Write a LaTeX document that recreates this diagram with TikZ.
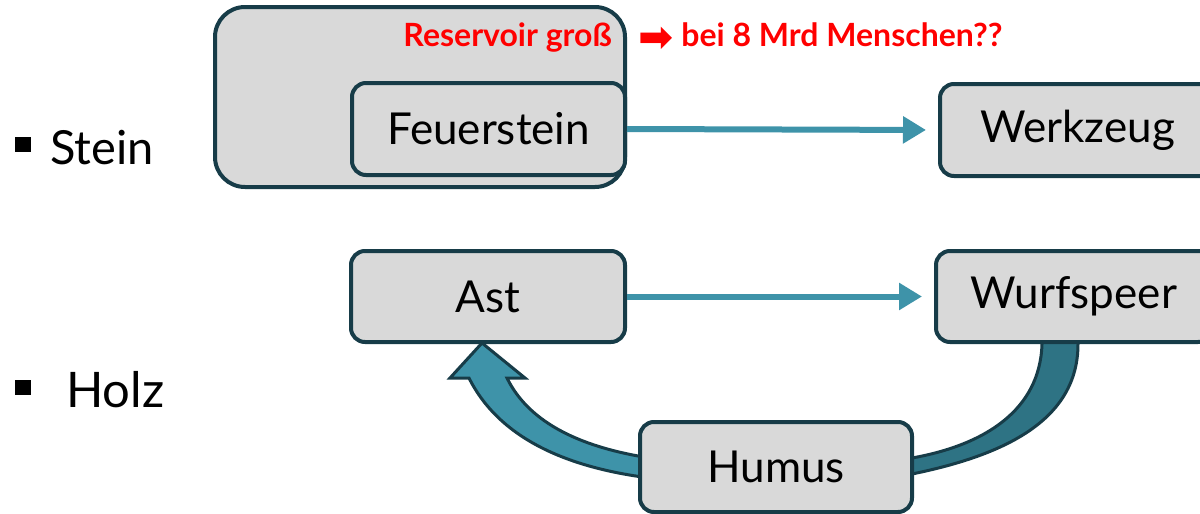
\documentclass[tikz,border=0pt]{standalone}
\usepackage{fontspec}
\setmainfont{Lato}
\newfontfamily\dejavu{DejaVu Sans}
\usetikzlibrary{arrows.meta}
\definecolor{boxfill}{HTML}{D9D9D9}
\definecolor{boxline}{HTML}{173C48}
\definecolor{tealA}{HTML}{3E93A9}
\definecolor{tealB}{HTML}{2E7384}
\definecolor{redtxt}{HTML}{FF0000}
\tikzset{
  box/.style={draw=boxline, line width=4pt, fill=boxfill, rounded corners=14pt, inner sep=0pt, font=\fontsize{44}{50}\selectfont},
  flowarrow/.style={draw=tealA, line width=6pt, -{Triangle[length=23pt,width=26pt]}, shorten >=12pt},
  bandline/.style={draw=boxline, line width=3pt, line join=round},
  bullettext/.style={anchor=base west, inner sep=0pt, font=\fontsize{47}{52}\selectfont},
  redlabel/.style={text=redtxt, inner sep=0pt, font=\bfseries\fontsize{32}{36}\selectfont}
}
\begin{document}
\begin{tikzpicture}[x=1pt,y=-1pt]
\useasboundingbox (0,0) rectangle (1200,514);
\clip (0,0) rectangle (1200,514);
% reservoir
\node[box, rounded corners=30pt, minimum width=410pt, minimum height=180pt] (res) at (420,97) {};
\node[redlabel, anchor=base east] (red1) at (612,46) {Reservoir groß};
\node[redlabel, anchor=base west] (red2) at (638,46) {\raisebox{-5pt}{\dejavu\fontsize{42}{46}\selectfont ➡}\hspace{8pt}bei 8 Mrd Menschen??};
% top row
\node[box, minimum width=273pt, minimum height=92pt] (feuer) at (488.5,129) {Feuerstein};
\node[box, minimum width=275pt, minimum height=92pt] (werk) at (1077.5,130) {Werkzeug};
\draw[flowarrow] (feuer.east) -- (werk.west);
% curved shapes
\fill[tealB] (1042,342) .. controls (1040,410) and (985,445) .. (912,458)
  -- (912,474) .. controls (1005,455) and (1078,420) .. (1078,342) -- cycle;
\draw[bandline] (1042,344) .. controls (1040,410) and (985,445) .. (912,458);
\draw[bandline] (912,474) .. controls (1005,455) and (1078,420) .. (1078,344);
\filldraw[fill=tealA, draw=boxline, line width=3pt, line join=miter]
  (650,478) .. controls (570,468) and (500,440) .. (469,378)
  -- (450,378) -- (482,343) -- (525,378) -- (507,378)
  .. controls (530,425) and (585,448) .. (650,458);
% bottom row
\node[box, minimum width=274pt, minimum height=91pt] (ast) at (488,296.5) {Ast};
\node[box, minimum width=276pt, minimum height=91pt] (wurf) at (1074,296.5) {Wurfspeer};
\draw[flowarrow] (ast.east) -- (wurf.west);
\node[box, minimum width=272pt, minimum height=90pt] (humus) at (776,467) {Humus};
% bullets
\fill (15,137) rectangle (31,152);
\node[bullettext] (stein) at (50,164) {Stein};
\fill (15,380) rectangle (31,395);
\node[bullettext, font=\fontsize{49}{54}\selectfont] (holz) at (66,407) {Holz};
\end{tikzpicture}
\end{document}
